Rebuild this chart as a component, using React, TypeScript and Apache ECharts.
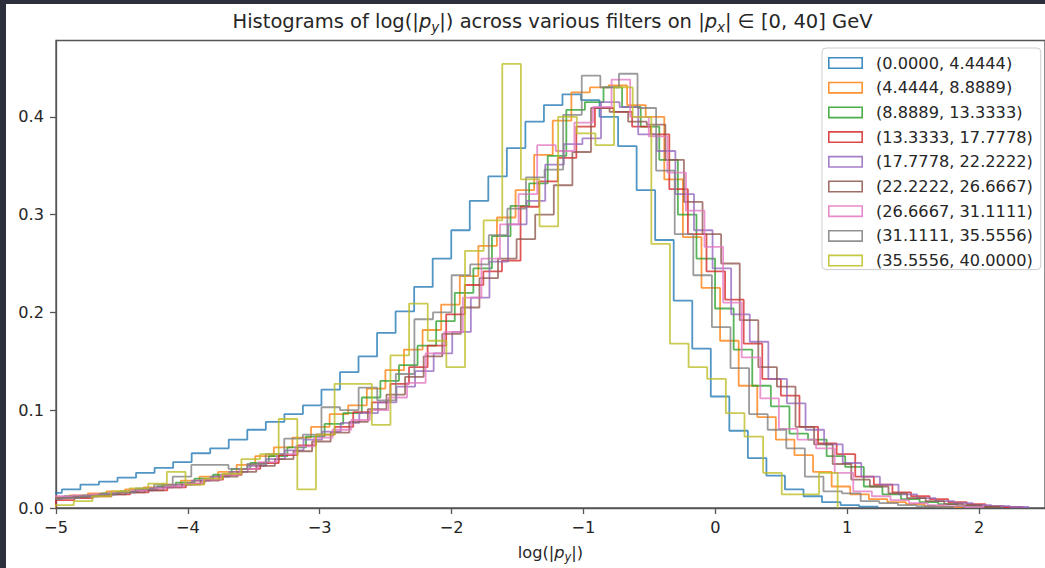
import { useEffect, useRef } from "react";
import * as echarts from "echarts";

// ---------- data ----------
const legendLabels = [
  "(0.0000, 4.4444)",
  "(4.4444, 8.8889)",
  "(8.8889, 13.3333)",
  "(13.3333, 17.7778)",
  "(17.7778, 22.2222)",
  "(22.2222, 26.6667)",
  "(26.6667, 31.1111)",
  "(31.1111, 35.5556)",
  "(35.5556, 40.0000)",
];

const xTicks = [-5, -4, -3, -2, -1, 0, 1, 2];
const yTicks = [0, 0.1, 0.2, 0.3, 0.4];

// left edge of first bin and bin width of each histogram
const binStarts = [-5.096, -5.04, -5.078, -5.002, -5.097, -5.032, -5.017, -5.102, -5.007];
const binWidths = [0.1406, 0.141, 0.141, 0.141, 0.141, 0.141, 0.141, 0.141, 0.1413];

const hist0 = [
  0.0155, 0.019, 0.024, 0.027, 0.031, 0.036, 0.041, 0.047, 0.056, 0.061, 0.07, 0.08, 0.088,
  0.096, 0.105, 0.121, 0.139, 0.155, 0.179, 0.201, 0.226, 0.255, 0.284, 0.314, 0.339, 0.368,
  0.395, 0.412, 0.423, 0.417, 0.4, 0.37, 0.325, 0.274, 0.212, 0.163, 0.114, 0.079, 0.051,
  0.033, 0.019, 0.012, 0.006, 0.003, 0.0015,
];
const hist1 = [
  0.011, 0.013, 0.015, 0.017, 0.019, 0.021, 0.024, 0.028, 0.032, 0.037, 0.044, 0.053, 0.062,
  0.072, 0.083, 0.096, 0.105, 0.122, 0.141, 0.162, 0.182, 0.208, 0.237, 0.268, 0.297, 0.325,
  0.361, 0.396, 0.425, 0.43, 0.432, 0.412, 0.4, 0.336, 0.277, 0.225, 0.171, 0.125, 0.093,
  0.07, 0.054, 0.037, 0.022, 0.014, 0.009, 0.006, 0.004, 0.002, 0.001,
];
const hist2 = [
  0.01, 0.012, 0.013, 0.015, 0.017, 0.019, 0.022, 0.026, 0.03, 0.034, 0.04, 0.046, 0.053,
  0.062, 0.073, 0.086, 0.097, 0.113, 0.13, 0.146, 0.166, 0.191, 0.22, 0.245, 0.278, 0.309,
  0.332, 0.36, 0.407, 0.415, 0.43, 0.41, 0.39, 0.356, 0.3, 0.255, 0.204, 0.162, 0.125, 0.104,
  0.076, 0.07, 0.053, 0.042, 0.022, 0.014, 0.009, 0.006, 0.004, 0.002, 0.001,
];
const hist3 = [
  0.008, 0.01, 0.012, 0.014, 0.016, 0.018, 0.021, 0.025, 0.029, 0.034, 0.04, 0.046, 0.054,
  0.064, 0.075, 0.083, 0.098, 0.108, 0.127, 0.144, 0.166, 0.198, 0.228, 0.242, 0.253, 0.308,
  0.334, 0.358, 0.39, 0.409, 0.405, 0.39, 0.382, 0.326, 0.28, 0.242, 0.213, 0.168, 0.132,
  0.115, 0.083, 0.066, 0.055, 0.032, 0.024, 0.016, 0.012, 0.009, 0.006, 0.004, 0.002, 0.001,
];
const hist4 = [
  0.009, 0.011, 0.012, 0.014, 0.016, 0.018, 0.021, 0.024, 0.028, 0.032, 0.037, 0.043, 0.05,
  0.059, 0.07, 0.078, 0.087, 0.097, 0.108, 0.124, 0.14, 0.158, 0.18, 0.215, 0.252, 0.29,
  0.314, 0.351, 0.372, 0.378, 0.415, 0.41, 0.382, 0.365, 0.321, 0.284, 0.245, 0.198, 0.17,
  0.132, 0.107, 0.08, 0.065, 0.046, 0.032, 0.024, 0.014, 0.01, 0.007, 0.005, 0.003, 0.002,
  0.001,
];
const hist5 = [
  0.01, 0.011, 0.013, 0.014, 0.016, 0.018, 0.021, 0.024, 0.028, 0.032, 0.037, 0.043, 0.05,
  0.058, 0.068, 0.077, 0.088, 0.101, 0.116, 0.134, 0.155, 0.178, 0.205, 0.235, 0.255, 0.275,
  0.3, 0.33, 0.364, 0.409, 0.405, 0.395, 0.392, 0.356, 0.313, 0.28, 0.25, 0.192, 0.144, 0.124,
  0.083, 0.065, 0.045, 0.029, 0.022, 0.015, 0.01, 0.007, 0.004, 0.003, 0.001,
];
const hist6 = [
  0.012, 0.013, 0.014, 0.016, 0.018, 0.02, 0.022, 0.025, 0.029, 0.034, 0.04, 0.047, 0.055,
  0.063, 0.072, 0.08, 0.09, 0.1, 0.113, 0.128, 0.158, 0.18, 0.215, 0.255, 0.29, 0.321, 0.371,
  0.365, 0.394, 0.41, 0.438, 0.4, 0.38, 0.343, 0.304, 0.267, 0.21, 0.154, 0.112, 0.081, 0.07,
  0.061, 0.036, 0.017, 0.012, 0.008, 0.005, 0.003, 0.002, 0.001,
];
const hist7 = [
  0.009, 0.01, 0.012, 0.014, 0.016, 0.02, 0.024, 0.032, 0.044, 0.044, 0.04, 0.045, 0.055,
  0.071, 0.075, 0.103, 0.1, 0.123, 0.11, 0.137, 0.193, 0.2, 0.238, 0.249, 0.279, 0.306, 0.338,
  0.346, 0.402, 0.442, 0.43, 0.444, 0.409, 0.345, 0.28, 0.238, 0.185, 0.143, 0.096, 0.08,
  0.061, 0.032, 0.017, 0.015, 0.007, 0.005, 0.003, 0.002, 0.001,
];
const hist8 = [
  0.003, 0.007, 0.012, 0.017, 0.02, 0.025, 0.037, 0.024, 0.03, 0.035, 0.05, 0.055, 0.091,
  0.019, 0.075, 0.127, 0.127, 0.085, 0.156, 0.209, 0.171, 0.144, 0.263, 0.294, 0.454, 0.336,
  0.288, 0.4, 0.383, 0.371, 0.43, 0.4, 0.27, 0.168, 0.144, 0.132, 0.097, 0.073, 0.036, 0.014,
  0.014, 0.036,
];

const histograms = [hist0, hist1, hist2, hist3, hist4, hist5, hist6, hist7, hist8];

// ---------- style ----------
const COLORS = [
  "#1f77b4",
  "#ff7f0e",
  "#2ca02c",
  "#d62728",
  "#9467bd",
  "#8c564b",
  "#e377c2",
  "#7f7f7f",
  "#bcbd22",
];
const FONT = "DejaVu Sans";
const AXIS_COLOR = "#555";
const TEXT_COLOR = "#262626";

function stepPoints(start: number, width: number, values: number[]): number[][] {
  const pts: number[][] = [[start, 0]];
  values.forEach((v, i) => pts.push([start + i * width, v]));
  pts.push([start + values.length * width, 0]);
  return pts;
}

const fmtTick = (v: number) => (v < 0 ? "\u2212" + Math.abs(v) : String(v));

export default function App() {
  const ref = useRef<HTMLDivElement>(null);

  useEffect(() => {
    if (!ref.current) return;
    const chart = echarts.init(ref.current, undefined, { renderer: "svg" });

    const series = histograms.map((vals, k) => ({
      name: legendLabels[k],
      type: "line",
      step: "end",
      symbol: "none",
      silent: true,
      clip: true,
      data: stepPoints(binStarts[k], binWidths[k], vals),
      itemStyle: { color: COLORS[k] },
      lineStyle: { color: COLORS[k], width: 1.8, opacity: 0.78 },
      z: 2 + k,
    }));

    const option = {
      animation: false,
      backgroundColor: "#ffffff",
      grid: {
        left: 56,
        right: -4.75,
        top: 40.5,
        bottom: 57,
        show: true,
        borderColor: AXIS_COLOR,
        borderWidth: 1.3,
        backgroundColor: "transparent",
      },
      xAxis: {
        type: "value",
        min: -5,
        max: 2.5,
        interval: 1,
        name: "log(|{i|p}{s|y}|)",
        nameLocation: "middle",
        nameGap: 33,
        nameTextStyle: {
          fontFamily: FONT,
          fontSize: 16.2,
          color: TEXT_COLOR,
          lineHeight: 22,
          rich: {
            i: { fontFamily: FONT, fontSize: 16.2, fontStyle: "italic", color: TEXT_COLOR, lineHeight: 22 },
            s: {
              fontFamily: FONT,
              fontSize: 11.5,
              fontStyle: "italic",
              color: TEXT_COLOR,
              lineHeight: 15,
              verticalAlign: "bottom",
            },
          },
        },
        axisLine: { show: true, onZero: false, lineStyle: { color: AXIS_COLOR, width: 1.3 } },
        axisTick: {
          show: true,
          length: 6,
          customValues: xTicks,
          lineStyle: { color: AXIS_COLOR, width: 1.3 },
        },
        axisLabel: {
          customValues: xTicks,
          formatter: fmtTick,
          fontFamily: FONT,
          fontSize: 16.2,
          color: TEXT_COLOR,
          margin: 11,
        },
        splitLine: { show: false },
      },
      yAxis: {
        type: "value",
        min: 0,
        max: 0.478,
        interval: 0.1,
        axisLine: { show: true, onZero: false, lineStyle: { color: AXIS_COLOR, width: 1.3 } },
        axisTick: {
          show: true,
          length: 6,
          customValues: yTicks,
          lineStyle: { color: AXIS_COLOR, width: 1.3 },
        },
        axisLabel: {
          customValues: yTicks,
          formatter: (v: number) => v.toFixed(1),
          fontFamily: FONT,
          fontSize: 16.2,
          color: TEXT_COLOR,
          margin: 12,
        },
        splitLine: { show: false },
      },
      legend: {
        orient: "vertical",
        left: 822,
        top: 48,
        data: legendLabels,
        icon: "path://M0,0H35V12H0Z M1.6,1.6V10.4H33.4V1.6Z",
        itemWidth: 35,
        itemHeight: 12,
        itemGap: 8.7,
        padding: [7, 8, 1, 6],
        backgroundColor: "#ffffff",
        borderColor: "#cccccc",
        borderWidth: 1,
        borderRadius: 4,
        selectedMode: false,
        itemStyle: { borderWidth: 0, opacity: 0.85 },
        textStyle: {
          fontFamily: FONT,
          fontSize: 16.2,
          color: TEXT_COLOR,
          lineHeight: 16,
          padding: [0, 0, 0, 8],
        },
      },
      graphic: [
        { type: "rect", shape: { x: 0, y: 0, width: 6, height: 568 }, style: { fill: "#2c2f3c" }, z: 100 },
        { type: "rect", shape: { x: 0, y: 0, width: 1045, height: 4 }, style: { fill: "#2c2f3c" }, z: 100 },
        {
          type: "text",
          x: 552.5,
          y: 21,
          style: {
            text: "Histograms of log(|{i|p}{s|y}|) across various filters on |{i|p}{s|x}| \u2208 [0, 40] GeV",
            fontFamily: FONT,
            fontSize: 19.5,
            fill: TEXT_COLOR,
            lineHeight: 26,
            align: "center",
            verticalAlign: "middle",
            rich: {
              i: { fontFamily: FONT, fontSize: 19.5, fontStyle: "italic", fill: TEXT_COLOR, lineHeight: 26 },
              s: {
                fontFamily: FONT,
                fontSize: 13.5,
                fontStyle: "italic",
                fill: TEXT_COLOR,
                lineHeight: 18,
                verticalAlign: "bottom",
              },
            },
          },
        },
      ],
      series,
    };

    chart.setOption(option as any);
    return () => chart.dispose();
  }, []);

  return (
    <div
      ref={ref}
      style={{ position: "fixed", left: 0, top: 0, width: 1045, height: 568, background: "#fff" }}
    />
  );
}
